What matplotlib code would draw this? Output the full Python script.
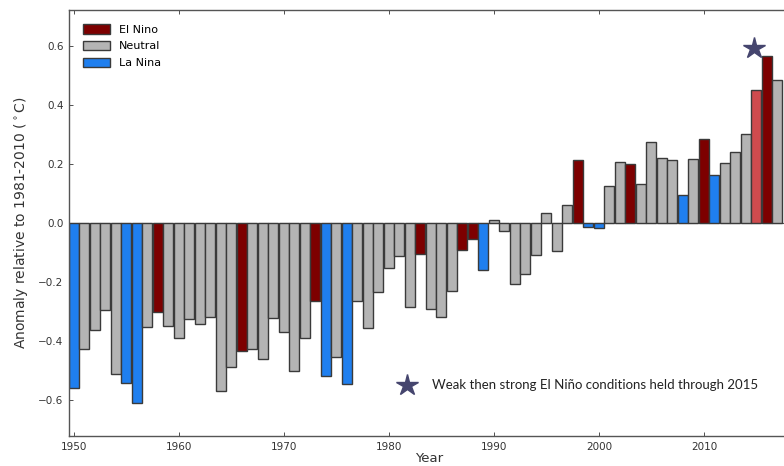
import matplotlib
matplotlib.use("Agg")
import matplotlib.pyplot as plt
from matplotlib.patches import Patch

years = list(range(1950, 2018))
anomaly = [
    -0.558, -0.427, -0.363, -0.295, -0.513, -0.541, -0.609, -0.353, -0.303, -0.348,  # 1950s
    -0.391, -0.327, -0.341, -0.319, -0.568, -0.488, -0.434, -0.426, -0.462, -0.321,  # 1960s
    -0.369, -0.502, -0.389, -0.263, -0.519, -0.453, -0.547, -0.264, -0.357, -0.234,  # 1970s
    -0.151, -0.112, -0.286, -0.104, -0.290, -0.318, -0.231, -0.090, -0.054, -0.159,  # 1980s
    0.011, -0.028, -0.208, -0.172, -0.108, 0.034, -0.096, 0.060, 0.215, -0.015,     # 1990s
    -0.018, 0.124, 0.207, 0.200, 0.133, 0.273, 0.222, 0.212, 0.096, 0.217,          # 2000s
    0.285, 0.164, 0.203, 0.239, 0.300, 0.451, 0.566, 0.486,                          # 2010s
]
# E = El Nino, N = Neutral, L = La Nina, W = weak-then-strong El Nino (2015)
enso = [
    "L", "N", "N", "N", "N", "L", "L", "N", "E", "N",
    "N", "N", "N", "N", "N", "N", "E", "N", "N", "N",
    "N", "N", "N", "E", "L", "N", "L", "N", "N", "N",
    "N", "N", "N", "E", "N", "N", "N", "E", "E", "L",
    "N", "N", "N", "N", "N", "N", "N", "N", "E", "L",
    "L", "N", "N", "E", "N", "N", "N", "N", "L", "N",
    "E", "L", "N", "N", "N", "W", "E", "N",
]
legend_labels = ["El Nino", "Neutral", "La Nina"]
star_year, star_value = 2014.8, 0.593
note_text = "Weak then strong El Niño conditions held through 2015"
note_star_x, note_star_y = 1981.7, -0.549
note_text_x = 1984.1

colors = {"E": "#7d0000", "N": "#b4b4b4", "L": "#1f7fef", "W": "#cf4b4e"}

fig = plt.figure(figsize=(7.84, 4.66), dpi=100)
ax = fig.add_axes([69 / 784, 30 / 466, 720 / 784, 426 / 466])

bar_colors = [colors[c] for c in enso]
ax.bar(years, anomaly, width=0.95, color=bar_colors, edgecolor="#3a3a3a", linewidth=1.0, zorder=2)
ax.axhline(0, color="#555555", linewidth=0.8, zorder=1)

ax.plot([star_year], [star_value], marker="*", markersize=16, color="#45456e", linestyle="none", zorder=3)
ax.plot([note_star_x], [note_star_y], marker="*", markersize=16, color="#45456e", linestyle="none", zorder=3)
ax.text(note_text_x, note_star_y, note_text, fontsize=9.5, family="Lato", color="#222222",
        va="center", ha="left")

ax.set_xlim(1949.57, 2018.1)
ax.set_ylim(-0.722, 0.722)
ax.set_xticks([1950, 1960, 1970, 1980, 1990, 2000, 2010])
ax.set_yticks([-0.6, -0.4, -0.2, 0.0, 0.2, 0.4, 0.6])
ax.set_yticklabels(["\u22120.6", "\u22120.4", "\u22120.2", "0.0", "0.2", "0.4", "0.6"])
ax.tick_params(direction="in", length=3, width=0.6, labelsize=7.5, colors="#333333",
               top=True, right=True, pad=4)
for s in ax.spines.values():
    s.set_color("#555555")
    s.set_linewidth(1.0)

ax.set_xlabel("Year", fontsize=9.5, color="#333333", labelpad=0)
ax.set_ylabel("Anomaly relative to 1981-2010 ($^\\circ$C)", fontsize=10, color="#333333", labelpad=6)

handles = [Patch(facecolor=colors[k], edgecolor="#3a3a3a", linewidth=1.0) for k in ["E", "N", "L"]]
ax.legend(handles, legend_labels, loc="upper left", frameon=False, fontsize=8,
          handlelength=2.4, handleheight=0.9, labelspacing=0.55, borderaxespad=0.9,
          handletextpad=0.8)

fig.savefig("out.png", dpi=100)
